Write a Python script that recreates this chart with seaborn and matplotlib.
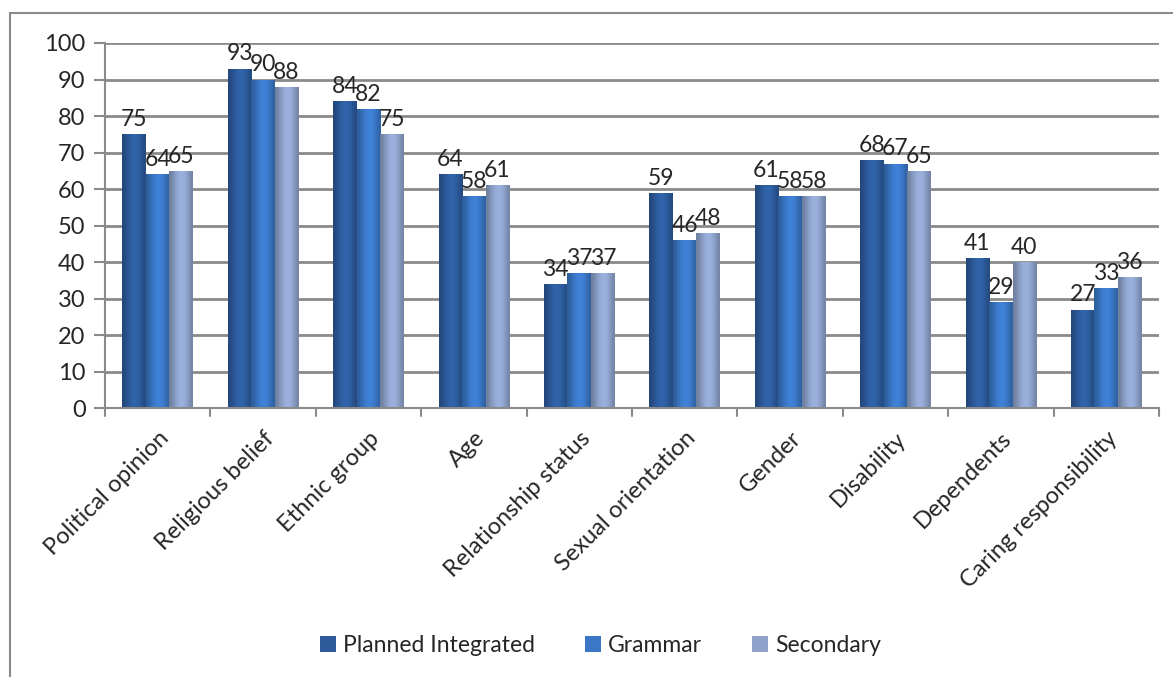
import numpy as np
import pandas as pd
import seaborn as sns
import matplotlib.pyplot as plt
from matplotlib.colors import to_rgb
from matplotlib.patches import Rectangle

categories = ['Political opinion', 'Religious belief', 'Ethnic group', 'Age',
              'Relationship status', 'Sexual orientation', 'Gender', 'Disability',
              'Dependents', 'Caring responsibility']
planned = [75, 93, 84, 64, 34, 59, 61, 68, 41, 27]
grammar = [64, 90, 82, 58, 37, 46, 58, 67, 29, 33]
secondary = [65, 88, 75, 61, 37, 48, 58, 65, 40, 36]
series = ['Planned Integrated', 'Grammar', 'Secondary']
colors = ['#2d5b9c', '#3a77c6', '#8ea2cb']

df = pd.DataFrame({
    'category': categories * 3,
    'value': planned + grammar + secondary,
    'school': [s for s in series for _ in categories],
})

sns.set_style('white')
plt.rcParams['font.family'] = ['Lato', 'DejaVu Sans']

fig = plt.figure(figsize=(11.73, 6.77), dpi=100)
ax = fig.add_axes([0.0895, 0.397, 0.8985, 0.5395])

sns.barplot(data=df, x='category', y='value', hue='school', palette=colors,
            width=0.67, gap=0, saturation=1, linewidth=0, ax=ax, legend=True)

# soft horizontal shading on each bar (darker edges, lighter middle)
shade = np.array([0.78, 0.9, 1.0, 1.08, 1.1, 1.05, 0.95, 0.82])
for cont, col in zip(ax.containers, colors):
    base = np.array(to_rgb(col))
    grad = np.clip(base[None, :] * shade[:, None], 0, 1)[None, :, :]
    for p in cont.patches:
        x0, y0 = p.get_x(), p.get_y()
        w, h = p.get_width(), p.get_height()
        im = ax.imshow(grad, extent=(x0, x0 + w, y0, y0 + h), aspect='auto',
                       interpolation='bicubic', zorder=p.get_zorder() + 0.1)
        im.set_clip_path(p)

# value labels
for cont in ax.containers:
    ax.bar_label(cont, fontsize=16.5, padding=3)

ax.set_ylim(0, 100)
ax.set_xlim(-0.5, len(categories) - 0.5)
ax.set_yticks(range(0, 101, 10))
ax.yaxis.grid(True, color='#8a8a8a', linewidth=2)
ax.set_axisbelow(True)
ax.set_xlabel('')
ax.set_ylabel('')

for side in ['top', 'right']:
    ax.spines[side].set_visible(False)
for side in ['left', 'bottom']:
    ax.spines[side].set_color('#8a8a8a')
    ax.spines[side].set_linewidth(1.5)

ax.tick_params(axis='y', labelsize=17, length=8, color='#8a8a8a', width=1.5,
               left=True, pad=6)
ax.set_xticks(range(len(categories)))
ax.set_xticklabels(categories, rotation=45, ha='right', rotation_mode='anchor',
                   fontsize=17)
ax.tick_params(axis='x', length=0, pad=14)
# category boundary ticks
for b in range(len(categories) + 1):
    ax.plot([b - 0.5, b - 0.5], [0, -2.2], color='#8a8a8a', lw=1.5,
            clip_on=False)

ax.legend(loc='upper center', bbox_to_anchor=(0.47, -0.565), ncol=3,
          frameon=False, fontsize=16.5, handlelength=0.7, handleheight=0.7,
          handletextpad=0.3, columnspacing=2.2)

# outer chart frame
fig.patches.append(Rectangle((10 / 1173, -0.1), 1.2, 1 - 13 / 677 + 0.1,
                             transform=fig.transFigure, fill=False,
                             edgecolor='#8a8a8a', linewidth=1.5))

fig.savefig('out.png', dpi=100)
